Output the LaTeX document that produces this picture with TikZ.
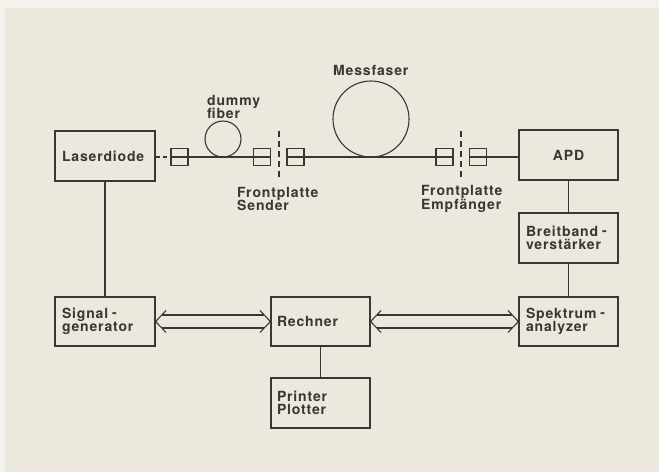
\documentclass[tikz,border=0pt]{standalone}
\usepackage{fontspec}
\setmainfont{TeX Gyre Heros}
\newfontfamily\lblfont[LetterSpace=6]{TeX Gyre Heros}
\usetikzlibrary{calc}
\definecolor{paper}{HTML}{ECE8DD}
\definecolor{paperedge}{HTML}{F4F2EC}
\definecolor{ink}{HTML}{3A3632}
\newcommand{\sephy}{\hspace{4pt}\raisebox{1pt}{-}}
\tikzset{
  blockbox/.style={draw=ink, line width=1.2pt, minimum width=100pt, minimum height=50pt,
    inner xsep=7pt, inner ysep=0pt, text width=86pt, align=left, text=ink,
    font=\lblfont\fontsize{14}{13.5}\selectfont\bfseries},
  lbl/.style={inner sep=0pt, align=left, text=ink, font=\lblfont\fontsize{14}{13.5}\selectfont\bfseries},
  conn/.style={draw=ink, line width=1.1pt, minimum size=17pt, inner sep=0pt},
  wire/.style={draw=ink, line width=1.1pt},
  fiberdash/.style={draw=ink, line width=1.1pt, dash pattern=on 4pt off 3pt},
  paneldash/.style={draw=ink, line width=1.1pt, dash pattern=on 6pt off 4pt}
}
\newcommand{\hollowarrow}[2]{%
  \draw[wire, line join=miter] ($(#1.east)+(10.5,11)$) -- (#1.east) -- ($(#1.east)+(10.5,-11)$);
  \draw[wire, line join=miter] ($(#2.west)+(-10.5,11)$) -- (#2.west) -- ($(#2.west)+(-10.5,-11)$);
  \draw[wire] ($(#1.east)+(6.2,6.5)$) -- ($(#2.west)+(-6.2,6.5)$);
  \draw[wire] ($(#1.east)+(6.2,-6.5)$) -- ($(#2.west)+(-6.2,-6.5)$);
}
\begin{document}
\begin{tikzpicture}[x=1pt,y=-1pt]
\useasboundingbox (0,0) rectangle (659,472);
\fill[paperedge] (0,0) rectangle (659,472);
\fill[paper] (5,8) rectangle (659,472);

% blocks
\node[blockbox] (laser) at (105,156) {Laserdiode};
\node[blockbox, minimum width=99pt, text width=85pt, align=center] (apd) at (568.5,155) {APD};
\node[blockbox, minimum width=99pt, text width=85pt] (breit) at (568.5,238) {Breitband\sephy\\verstärker};
\node[blockbox, minimum width=99pt, text width=85pt, minimum height=49pt] (spek) at (568.5,321.5) {Spektrum\sephy\\analyzer};
\node[blockbox, minimum height=49pt] (sig) at (105,321.5) {Signal\sephy\\generator};
\node[blockbox, minimum width=99pt, text width=87pt, inner xsep=6pt, minimum height=49pt] (rech) at (320.5,321.5) {Rechner};
\node[blockbox, minimum width=99pt, text width=87pt, inner xsep=6pt] (print) at (320.5,403) {Printer\\Plotter};

% connectors
\node[conn] (c1) at (179.5,157) {};
\node[conn] (c2) at (262,157) {};
\node[conn] (c3) at (295.5,157) {};
\node[conn] (c4) at (444.5,157) {};
\node[conn] (c5) at (478,157) {};

% fibres
\node[circle, draw=ink, line width=1.1pt, minimum size=36pt, inner sep=0pt] (dummy) at (223,139) {};
\node[circle, draw=ink, line width=1.1pt, minimum size=76pt, inner sep=0pt] (mess) at (371,119) {};

\draw[fiberdash] (laser.east |- c1.west) -- (c1.west);
\draw[wire] (c1.west) -- (c2.east);
\draw[wire] (c3.west) -- (c4.east);
\draw[wire] (c5.west) -- (apd.west |- c5.east);

% front panels
\coordinate (fsTop) at (279,131);
\coordinate (fsBot) at (279,180);
\coordinate (feTop) at (461,131);
\coordinate (feBot) at (461,180);
\draw[paneldash] (fsTop) -- (fsBot);
\draw[paneldash] (feTop) -- (feBot);

% labels
\node[lbl, anchor=west] (lmess) at (333,70) {Messfaser};
\node[lbl, anchor=west] (ldummy) at (207,107) {dummy\\fiber};
\node[lbl, anchor=west] (lsend) at (237,199) {Frontplatte\\Sender};
\node[lbl, anchor=west] (lempf) at (421,199) {Frontplatte\\Empfänger};

% signal lines
\draw[wire] (laser.south) -- (sig.north);
\draw[wire] (apd.south) -- (breit.north);
\draw[wire] (breit.south) -- (spek.north);
\draw[wire] (rech.south) -- (print.north);

% data buses
\hollowarrow{sig}{rech}
\hollowarrow{rech}{spek}
\end{tikzpicture}
\end{document}
